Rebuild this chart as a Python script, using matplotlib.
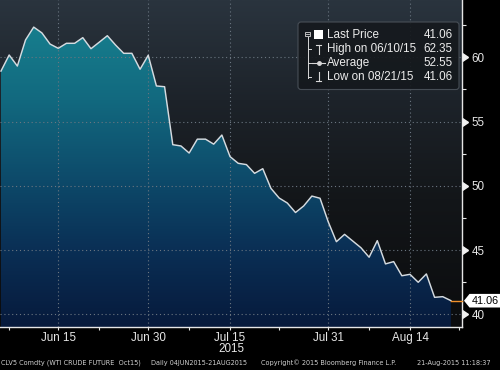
import numpy as np
import pandas as pd
import matplotlib
matplotlib.use("Agg")
import matplotlib.pyplot as plt
from matplotlib.colors import LinearSegmentedColormap
from matplotlib.patches import Polygon, FancyBboxPatch, Rectangle
from matplotlib.lines import Line2D
import matplotlib.transforms as mtransforms

plt.rcParams['font.family'] = ['Liberation Sans', 'DejaVu Sans']

# ---------------- data ----------------
prices = [58.93, 60.18, 59.32, 61.35, 62.35, 61.90, 61.03, 60.70, 61.09, 61.09,
          61.53, 60.67, 61.17, 61.68, 60.96, 60.31, 60.31, 59.07, 60.16, 57.77,
          57.71, 53.20, 53.10, 52.55, 53.63, 53.63, 53.24, 53.95, 52.27, 51.75,
          51.65, 50.97, 51.33, 49.80, 49.05, 48.66, 47.92, 48.43, 49.20, 49.03,
          47.20, 45.65, 46.22, 45.70, 45.18, 44.44, 45.73, 43.92, 44.10, 43.00,
          43.11, 42.49, 43.14, 41.32, 41.37, 41.06]
start_date = '2015-06-04'
end_date = '2015-08-21'
holidays = ['2015-07-03']
major_dates = ['2015-06-15', '2015-06-30', '2015-07-15', '2015-07-31', '2015-08-14']
major_labels = ['Jun 15', 'Jun 30', 'Jul 15', 'Jul 31', 'Aug 14']
minor_dates = ['2015-06-05', '2015-06-22', '2015-07-08', '2015-07-23', '2015-08-07', '2015-08-24']
year_label = '2015'
y_major = [40, 45, 50, 55, 60]
y_minor = [42.5, 47.5, 52.5, 57.5, 62.5]
last_price_label = '41.06'
legend_names = ['Last Price', 'High on 06/10/15', 'Average', 'Low on 08/21/15']
legend_values = ['41.06', '62.35', '52.55', '41.06']
footer_parts = ['CLV5 Comdty (WTI CRUDE FUTURE  Oct15)',
                'Daily 04JUN2015-21AUG2015',
                'Copyright\u00a9 2015 Bloomberg Finance L.P.',
                '21-Aug-2015 11:18:37']

# trading-day index
all_days = pd.bdate_range(start_date, '2015-08-31')
all_days = all_days[~all_days.isin(pd.to_datetime(holidays))]
pos = {d.strftime('%Y-%m-%d'): i for i, d in enumerate(all_days)}
n = len(prices)
x = np.arange(n)

W, H = 500, 370
fig = plt.figure(figsize=(W / 100, H / 100), dpi=100, facecolor='black')
ax_bottom_px = 327.0
ax_right_px = 462.3
ax = fig.add_axes([0, 1 - ax_bottom_px / H, ax_right_px / W, ax_bottom_px / H])
ax.set_facecolor('black')

xmin, xmax = -0.12, 56.39
ymin, ymax = 39.01, 64.46

# background gradient
bg_cmap = LinearSegmentedColormap.from_list('bg', [
    (0.0, '#0b0c0e'), (0.39, '#131619'), (0.695, '#1d232a'), (1.0, '#2a343e')])
grad = np.linspace(1, 0, 256).reshape(-1, 1)
ax.imshow(grad, extent=[0, 1, 0, 1], transform=ax.transAxes, aspect='auto',
          cmap=bg_cmap, vmin=0, vmax=1, zorder=0, interpolation='bilinear')

# area fill gradient clipped to polygon
fill_cmap = LinearSegmentedColormap.from_list('fill', [
    (0.0, '#071a3c'), (0.237, '#0a2f55'), (0.45, '#0d4a6a'),
    (0.695, '#12697f'), (0.94, '#17808f'), (1.0, '#18858f')])
verts = [(x[0], ymin)] + list(zip(x, prices)) + [(x[-1], ymin)]
poly = Polygon(verts, closed=True, facecolor='none', edgecolor='none')
ax.add_patch(poly)
im = ax.imshow(grad, extent=[xmin, xmax, ymin, ymax], aspect='auto',
               cmap=fill_cmap, vmin=0, vmax=1, zorder=1, interpolation='bilinear')
im.set_clip_path(poly)

# grid
xt = [pos[d] for d in major_dates]
for xv in xt:
    ax.axvline(xv, color='#6b7681', lw=0.8, ls=(0, (1, 2.5)), zorder=2)
for yv in y_major:
    ax.axhline(yv, color='#6b7681', lw=0.8, ls=(0, (1, 2.5)), zorder=2)

# price line
ax.plot(x, prices, color='#d5dbe0', lw=1.05, zorder=3)
# last price orange line
ax.plot([x[-1], xmax], [prices[-1], prices[-1]], color='#f0902a', lw=1.0, zorder=3,
        clip_on=False)

ax.set_xlim(xmin, xmax)
ax.set_ylim(ymin, ymax)

# spines
for s in ['left', 'top']:
    ax.spines[s].set_visible(False)
for s in ['right', 'bottom']:
    ax.spines[s].set_color('#e6e6e6')
    ax.spines[s].set_linewidth(1.0)

# x ticks
ax.set_xticks(xt)
ax.set_xticklabels(major_labels)
ax.set_xticks([pos[d] for d in minor_dates], minor=True)
ax.tick_params(axis='x', which='both', direction='out', length=2.5, width=0.8,
               color='#e6e6e6', labelcolor='#e6e6e6', labelsize=8.4, pad=0.8)

# y ticks
ax.yaxis.tick_right()
ax.set_yticks(y_major)
ax.set_yticklabels([str(v) for v in y_major])
ax.set_yticks(y_minor, minor=True)
ax.tick_params(axis='y', which='major', length=0, pad=6.8,
               labelcolor='#e6e6e6', labelsize=8.4)
ax.tick_params(axis='y', which='minor', direction='out', length=3.0, width=0.8,
               color='#e6e6e6')
btrans = mtransforms.blended_transform_factory(ax.transAxes, ax.transData)
ax.plot([1.0] * len(y_major), y_major, transform=btrans, ls='none', marker=9,
        markersize=5.5, color='#f0f0f0', clip_on=False, zorder=5)

# pixel transform (origin top-left)
pix = mtransforms.Affine2D().scale(1 / W, -1 / H).translate(0, 1) + fig.transFigure

# year label
fig.text(231, 349.3, year_label, transform=pix, color='#e6e6e6', fontsize=8.4,
         ha='center', va='center')

# last price label box
yl = 300.7
fig.patches.append(Polygon([(464, yl), (469.5, yl - 6.8), (500, yl - 6.8),
                            (500, yl + 6.8), (469.5, yl + 6.8)], closed=True,
                           facecolor='white', edgecolor='none', transform=pix))
fig.text(485.5, yl, last_price_label, transform=pix, color='black', fontsize=7.8,
         ha='center', va='center')

# legend box
box = FancyBboxPatch((298, 22), 161, 67.5, boxstyle='round,pad=0,rounding_size=3',
                     facecolor='#15191d', edgecolor='#4b525a', lw=0.8, alpha=0.92,
                     transform=pix)
fig.patches.append(box)
lc = '#d8d8d8'
fig.patches.append(Rectangle((305.4, 31.8), 4.6, 4.6, facecolor='none',
                             edgecolor=lc, lw=0.6, transform=pix))
fig.lines.append(Line2D([306.3, 309.1], [34.1, 34.1], color=lc, lw=0.6, transform=pix))
fig.lines.append(Line2D([307.7, 307.7], [36.5, 77.5], color=lc, lw=0.7, transform=pix))
for ry in [49.3, 63.3, 77.3]:
    fig.lines.append(Line2D([307.7, 311], [ry, ry], color=lc, lw=0.7, transform=pix))
fig.patches.append(Rectangle((314, 30.3), 9, 9, facecolor='white', edgecolor='none',
                             transform=pix))
# high icon
fig.lines.append(Line2D([318.5, 318.5], [44.5, 53.5], color=lc, lw=0.8, transform=pix))
fig.lines.append(Line2D([316, 321], [44.5, 44.5], color=lc, lw=0.8, transform=pix))
# average icon
fig.lines.append(Line2D([312, 325], [63.3, 63.3], color=lc, lw=0.8, transform=pix))
fig.lines.append(Line2D([318.5], [63.3], color=lc, marker='o', markersize=2.5,
                        transform=pix))
# low icon
fig.lines.append(Line2D([318.5, 318.5], [72, 81], color=lc, lw=0.8, transform=pix))
fig.lines.append(Line2D([316, 321], [81, 81], color=lc, lw=0.8, transform=pix))
rows = [35.0, 49.3, 63.3, 77.3]
for ry, nm, vl in zip(rows, legend_names, legend_values):
    fig.text(327.3, ry, nm, transform=pix, color='#ececec', fontsize=8.4,
             ha='left', va='center')
    fig.text(452.5, ry, vl, transform=pix, color='#ececec', fontsize=8.4,
             ha='right', va='center')

# footer
foot_x = [1, 150.7, 261, 416.7]
for fxp, txt in zip(foot_x, footer_parts):
    fig.text(fxp, 362.7, txt, transform=pix, color='#d0d0d0', fontsize=4.7,
             family='DejaVu Sans', ha='left', va='center')

fig.savefig('out.png', dpi=100, facecolor='black')
